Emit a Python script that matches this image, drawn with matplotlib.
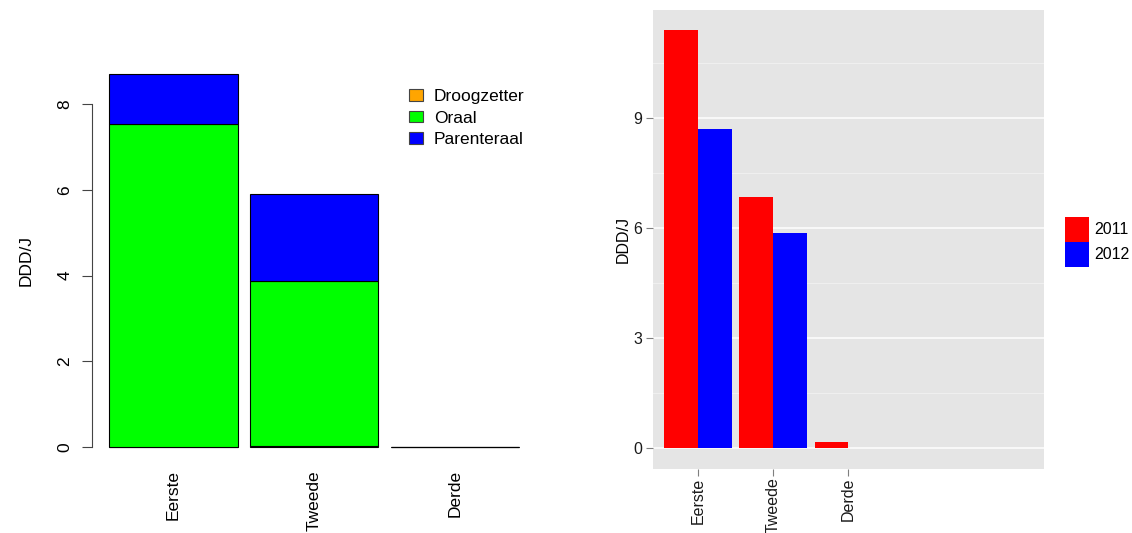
import numpy as np
import matplotlib
matplotlib.use("Agg")
import matplotlib.pyplot as plt

plt.rcParams['font.family'] = ['Liberation Sans', 'DejaVu Sans']

# links: gestapelde staven per type
categories = ["Eerste", "Tweede", "Derde"]
droogzetter = [0.0, 0.02, 0.0]
oraal = [7.53, 3.85, 0.0]
parenteraal = [1.17, 2.03, 0.0]

# rechts: per jaar naast elkaar
jaar_2011 = [11.38, 6.84, 0.17]
jaar_2012 = [8.69, 5.87, 0.0]

fig = plt.figure(figsize=(11.32, 5.33), dpi=100)

# ---------- linker grafiek (base R stijl) ----------
ax1 = fig.add_axes([0.0813, 0.1332, 0.3932, 0.7558])
x = np.arange(len(categories))
w = 0.912
ec = dict(edgecolor="black", linewidth=0.8)
ax1.bar(x, droogzetter, w, color="#FFA500", label="Droogzetter", **ec)
b1 = np.array(droogzetter)
ax1.bar(x, oraal, w, bottom=b1, color="#00FF00", label="Oraal", **ec)
b2 = b1 + np.array(oraal)
ax1.bar(x, parenteraal, w, bottom=b2, color="#0000FF", label="Parenteraal", **ec)

ax1.set_xlim(-0.58, 2.587)
ax1.set_ylim(-0.348, 9.05)
for s in ["top", "right", "bottom"]:
    ax1.spines[s].set_visible(False)
ax1.spines["left"].set_bounds(0, 8)
ax1.spines["left"].set_color("#444444")
ax1.set_yticks([0, 2, 4, 6, 8])
ax1.tick_params(axis="y", length=7, color="#444444", labelsize=12.5, pad=7)
for lab in ax1.get_yticklabels():
    lab.set_rotation(90)
    lab.set_va("center")
ax1.set_xticks(x)
ax1.set_xticklabels(categories, rotation=90, fontsize=12.5, va="top")
ax1.tick_params(axis="x", length=0, pad=6)
ax1.set_ylabel("DDD/J", fontsize=12.5, labelpad=17)

leg1 = ax1.legend(loc="upper left", bbox_to_anchor=(0.712, 0.925), frameon=False,
                  fontsize=12.5, handlelength=0.8, handleheight=0.68,
                  handletextpad=0.65, labelspacing=0.35, borderpad=0,
                  borderaxespad=0)
for p in leg1.get_patches():
    p.set_edgecolor("#444444")

# ---------- rechter grafiek (ggplot stijl) ----------
ax2 = fig.add_axes([0.5769, 0.1201, 0.345, 0.862])
ax2.set_facecolor("#E5E5E5")
pos = np.arange(1, len(categories) + 1)
bw = 0.45
ax2.bar(pos - bw / 2, jaar_2011, bw, color="#FF0000", label="2011", zorder=3)
ax2.bar(pos + bw / 2, jaar_2012, bw, color="#0000FF", label="2012", zorder=3)

ax2.set_xlim(0.4, 5.6)  # discrete schaal met 5 niveaus
ax2.set_ylim(-0.57, 11.95)
ax2.set_yticks([0, 3, 6, 9])
ax2.set_yticks([1.5, 4.5, 7.5, 10.5], minor=True)
ax2.grid(axis="y", which="major", color="white", linewidth=1.1, zorder=0)
ax2.grid(axis="y", which="minor", color="#F2F2F2", linewidth=0.6, zorder=0)
ax2.set_axisbelow(True)
for s in ax2.spines.values():
    s.set_visible(False)
ax2.set_xticks(pos)
ax2.set_xticklabels(categories, rotation=90, fontsize=11.5, va="top", color="#1a1a1a")
ax2.tick_params(axis="both", which="major", length=5, color="#7F7F7F",
                labelsize=11.5, labelcolor="#1a1a1a", pad=3)
ax2.tick_params(axis="x", pad=1)
ax2.tick_params(axis="y", which="minor", length=0)
ax2.set_ylabel("DDD/J", fontsize=11.5, labelpad=2)

ax2.legend(loc="center left", bbox_to_anchor=(1.055, 0.495), frameon=False,
           fontsize=11.5, handlelength=1.5, handleheight=2.03, handletextpad=0.3,
           labelspacing=0, borderpad=0, borderaxespad=0)

fig.savefig("out.png", dpi=100)
